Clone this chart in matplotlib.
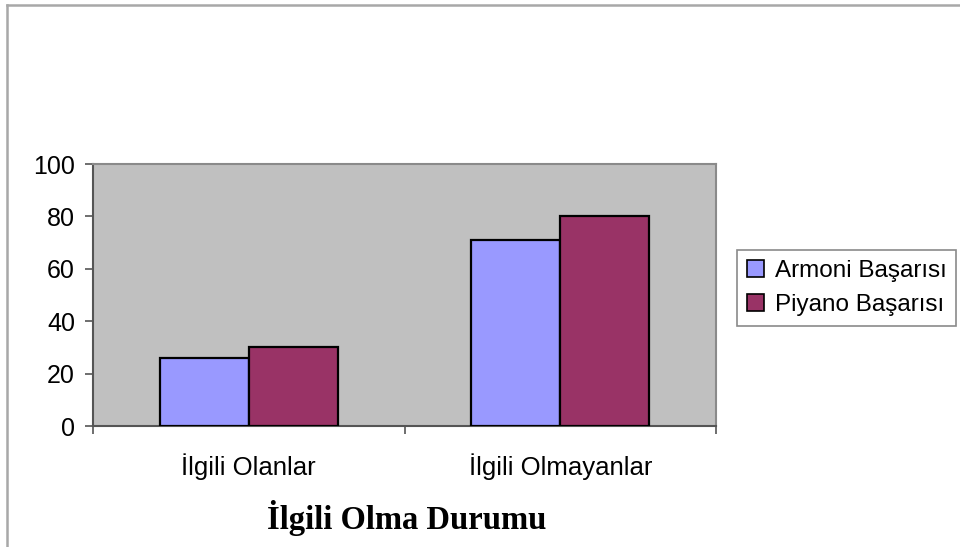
import numpy as np
import matplotlib.pyplot as plt
from matplotlib.lines import Line2D
from matplotlib.patches import Patch

categories = ['İlgili Olanlar', 'İlgili Olmayanlar']
series_names = ['Armoni Başarısı', 'Piyano Başarısı']
armoni = [26, 71]
piyano = [30, 80]
yticks = [0, 20, 40, 60, 80, 100]
colors = ['#9999FF', '#993366']

plt.rcParams['font.family'] = ['Liberation Sans', 'DejaVu Sans']

fig = plt.figure(figsize=(9.6, 5.47), dpi=100)
ax = fig.add_axes([93 / 960, 1 - 426 / 547, (716 - 93) / 960, (426 - 164) / 547])
ax.set_facecolor('#C0C0C0')

# excel style: two bars, gap width 150%
x = np.arange(len(categories)) + 0.5
w = 1 / 3.5
ax.bar(x - w / 2, armoni, w, color=colors[0], edgecolor='black', linewidth=1.6, zorder=3)
ax.bar(x + w / 2, piyano, w, color=colors[1], edgecolor='black', linewidth=1.6, zorder=3)

ax.set_xlim(0, len(categories))
ax.set_ylim(0, 100)
ax.set_yticks(yticks)
ax.set_xticks(x)
ax.set_xticklabels(categories)
ax.set_xticks(np.arange(len(categories) + 1), minor=True)
ax.tick_params(axis='x', which='major', length=0, pad=20, labelsize=18.5)
ax.tick_params(axis='x', which='minor', length=6, width=1.2, color='#555555')
ax.tick_params(axis='y', length=6, width=1.2, color='#555555', pad=7, labelsize=18)

for s in ['left', 'bottom']:
    ax.spines[s].set_color('#555555')
    ax.spines[s].set_linewidth(1.5)
for s in ['top', 'right']:
    ax.spines[s].set_color('#8a8a8a')
    ax.spines[s].set_linewidth(1.5)

fig.text(407 / 960, 1 - 529 / 547, 'İlgili Olma Durumu', ha='center', va='baseline',
         family=['Liberation Serif', 'DejaVu Serif'], fontweight='bold', fontsize=23.5)

handles = [Patch(facecolor=c, edgecolor='black', linewidth=1.2) for c in colors]
leg = fig.legend(handles, series_names, loc='upper left',
                 bbox_to_anchor=(737 / 960, 1 - 250 / 547), fontsize=17.5,
                 fancybox=False, framealpha=1, edgecolor='#8a8a8a',
                 handlelength=0.7, handleheight=0.7, handletextpad=0.45,
                 borderpad=0.4, labelspacing=0.5, borderaxespad=0)
leg.get_frame().set_linewidth(1.2)

# outer chart frame (top and left edges)
fig.add_artist(Line2D([7 / 960, 1], [1 - 5 / 547, 1 - 5 / 547], color='#a8a8a8', lw=1.8))
fig.add_artist(Line2D([7 / 960, 7 / 960], [0, 1 - 5 / 547], color='#a8a8a8', lw=1.8))

fig.savefig('out.png', dpi=100)
